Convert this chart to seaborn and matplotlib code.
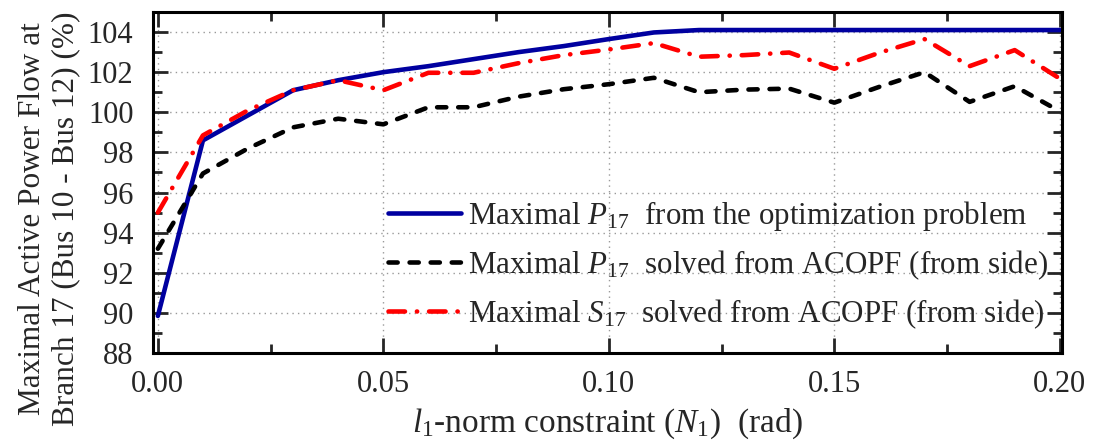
import numpy as np
import pandas as pd
import matplotlib
matplotlib.use("Agg")
import matplotlib.pyplot as plt
import seaborn as sns
from matplotlib.ticker import MultipleLocator

# ---- data ----
x_vals = [0.00, 0.01, 0.02, 0.03, 0.04, 0.05, 0.06, 0.07, 0.08, 0.09, 0.10,
          0.11, 0.12, 0.13, 0.14, 0.15, 0.16, 0.17, 0.18, 0.19, 0.20]
p_opt = [89.85, 98.6, 99.85, 101.1, 101.6, 102.0, 102.3, 102.65, 103.0, 103.3, 103.65,
         103.98, 104.1, 104.1, 104.1, 104.1, 104.1, 104.1, 104.1, 104.1, 104.1]
p_acopf = [93.2, 96.95, 98.2, 99.25, 99.68, 99.4, 100.25, 100.25, 100.78, 101.15, 101.4,
           101.72, 101.0, 101.13, 101.18, 100.48, 101.27, 102.0, 100.52, 101.3, 100.05]
s_acopf = [95.0, 98.85, 100.1, 101.1, 101.6, 101.1, 101.97, 101.97, 102.45, 102.85, 103.13,
           103.45, 102.77, 102.85, 102.98, 102.17, 102.97, 103.65, 102.3, 103.1, 101.68]

labels = [r"Maximal $P_{17}$  from the optimization problem",
          r"Maximal $P_{17}$  solved from ACOPF (from side)",
          r"Maximal $S_{17}$  solved from ACOPF (from side)"]
xlabel = r"$l_{\mathrm{1}}$-norm constraint ($N_{\mathrm{1}}$)  (rad)"
ylabel = "Maximal Active Power Flow at\nBranch 17 (Bus 10 - Bus 12) (%)"

sns.set_style("ticks")
plt.rcParams['font.family'] = ['Liberation Serif', 'DejaVu Serif']
plt.rcParams['mathtext.fontset'] = 'custom'
plt.rcParams['mathtext.rm'] = 'Liberation Serif'
plt.rcParams['mathtext.it'] = 'Liberation Serif:italic'
plt.rcParams['mathtext.bf'] = 'Liberation Serif:bold'

fig = plt.figure(figsize=(11, 4.41), dpi=100)
ax = fig.add_axes([0.139, 0.1995, 0.8265, 0.7733])

df = pd.DataFrame({"x": x_vals, "a": p_opt, "b": p_acopf, "c": s_acopf})

LW = 3.3
sns.lineplot(data=df, x="x", y="a", ax=ax, color="#0000A0", lw=LW,
             label=labels[0])
sns.lineplot(data=df, x="x", y="b", ax=ax, color="black", lw=LW,
             label=labels[1])
sns.lineplot(data=df, x="x", y="c", ax=ax, color="#FF0000", lw=LW,
             label=labels[2])
lines = ax.get_lines()
lines[1].set_dashes([2.0, 2.6])
lines[2].set_dashes([3.6, 2.6, 0.05, 2.6])
for ln in lines:
    ln.set_dash_capstyle('round')
    ln.set_solid_capstyle('round')

ax.set_xlim(-0.0011, 0.2005)
ax.set_ylim(88, 105)
ax.xaxis.set_minor_locator(MultipleLocator(0.025))
ax.yaxis.set_minor_locator(MultipleLocator(1))
ax.set_xticks([0.0, 0.05, 0.10, 0.15, 0.20])
ax.set_xticklabels(["0.00", "0.05", "0.10", "0.15", "0.20"])
ax.set_yticks(list(range(88, 105, 2)))

ax.grid(True, which="major", linestyle=(0, (1, 3)), color="#999999", lw=1.0)
ax.tick_params(which="both", direction="in", top=True, right=True,
               width=2.0, labelsize=22)
ax.tick_params(axis="x", which="major", pad=12)
ax.tick_params(axis="y", which="major", pad=14)
ax.tick_params(which="major", length=11)
ax.tick_params(which="minor", length=6.5)
for sp in ax.spines.values():
    sp.set_linewidth(2.2)
    sp.set_color("black")

ax.set_xlabel(xlabel, fontsize=24)
ax.xaxis.set_label_coords(0.5, -0.158)
ax.set_ylabel(ylabel, fontsize=22.5, linespacing=1.22, va="center")
ax.yaxis.set_label_coords(-0.114, 0.395)

leg = ax.legend(loc="upper left", bbox_to_anchor=(0.2585, 0.453), frameon=False,
                fontsize=22.3, handlelength=2.35, handletextpad=0.22,
                labelspacing=0.5, borderaxespad=0.0, borderpad=0.0)

fig.savefig("out.png", dpi=100)
